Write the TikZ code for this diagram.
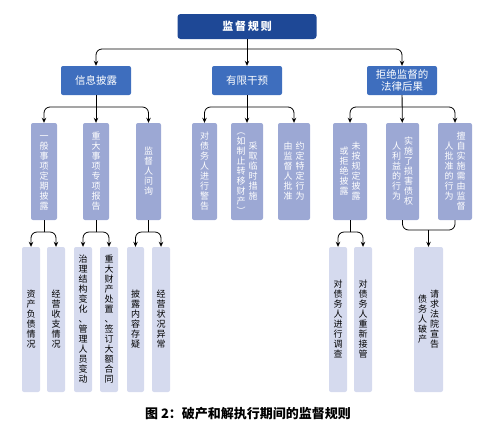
\documentclass[tikz,border=0pt]{standalone}
\usepackage{fontspec}
\setmainfont{Noto Sans CJK SC}
\usetikzlibrary{arrows.meta}

\definecolor{topblue}{RGB}{30,72,150}
\definecolor{lvone}{RGB}{62,110,190}
\definecolor{lvtwo}{RGB}{156,168,212}
\definecolor{lvthree}{RGB}{213,218,238}

% one column of upright characters, read top to bottom
\def\vcolstep#1{\ifx\relax#1\else\hbox to 1em{\hss\vrule height .88em depth .12em width 0pt #1\hss}\kern1pt\expandafter\vcolstep\fi}
\newcommand\vcol[1]{$\vcenter{\offinterlineskip\vcolstep#1\relax}$}
% two columns: first argument on the left, second on the right
\newcommand\vtwo[2]{\vcol{#1}\kern3pt\vcol{#2}}

\begin{document}
\begin{tikzpicture}[x=1pt,y=-1pt,
    arr/.style={-{Stealth[length=5pt,width=4.5pt]}},
    line/.style={line width=0.8pt, rounded corners=6pt},
    head/.style={fill=topblue, text=white, rounded corners=3pt, minimum width=139pt, minimum height=25pt, font=\fontsize{11}{13}\selectfont\bfseries},
    topic/.style={fill=lvone, text=white, rounded corners=2pt, minimum width=70pt, minimum height=29pt, align=center, font=\fontsize{10.5}{12.5}\selectfont},
    item/.style={fill=lvtwo, text=white, rounded corners=2pt, inner sep=0pt, minimum height=97pt, font=\fontsize{9}{9}\selectfont},
    leaf/.style={fill=lvthree, text=black, rounded corners=2pt, inner sep=0pt, minimum height=145pt, font=\fontsize{9}{9}\selectfont}]

    \useasboundingbox (0,0) rectangle (497,437);

    \node[head] (rules) at (247,26.5) {监\,督\,规\,则};

    \node[topic] (info)   at (96,80.5)  {信息披露};
    \node[topic] (limit)  at (247,80.5) {有限干预};
    \node[topic] (refuse) at (402,80.5) {拒绝监督的\\法律后果};

    % second row
    \node[item, minimum width=26pt] (regular) at (44,171.5)    {\vcol{一般事项定期披露}};
    \node[item, minimum width=26pt] (special) at (96,171.5)    {\vcol{重大事项专项报告}};
    \node[item, minimum width=25pt] (inquiry) at (148.5,171.5) {\vcol{监督人问询}};
    \node[item, minimum width=25pt] (warn)    at (204.5,171.5) {\vcol{对债务人进行警告}};
    \node[item, minimum width=32pt] (interim) at (247,171.5)   {\vtwo{︵如制止转移财产︶}{采取临时措施}};
    \node[item, minimum width=32pt] (approve) at (294,171.5)   {\vtwo{由监督人批准}{约定特定行为}};
    \node[item, minimum width=34pt] (nodisc)  at (350,171.5)   {\vtwo{或拒绝披露}{未按规定披露}};
    \node[item, minimum width=33pt] (harm)    at (402.5,171.5) {\vtwo{人利益的行为}{实施了损害债权}};
    \node[item, minimum width=34pt] (unauth)  at (455,171.5)   {\vtwo{人批准的行为}{擅自实施需由监督}};

    % third row
    \node[leaf, minimum width=18pt] (assets)  at (31,319.5)    {\vcol{资产负债情况}};
    \node[leaf, minimum width=18pt] (income)  at (56,319.5)    {\vcol{经营收支情况}};
    \node[leaf, minimum width=18pt] (govern)  at (83,319.5)    {\vcol{治理结构变化、管理人员变动}};
    \node[leaf, minimum width=18pt] (dispose) at (109,319.5)   {\vcol{重大财产处置、签订大额合同}};
    \node[leaf, minimum width=17pt] (doubt)   at (135.5,319.5) {\vcol{披露内容存疑}};
    \node[leaf, minimum width=18pt] (abnorm)  at (161,319.5)   {\vcol{经营状况异常}};
    \node[leaf, minimum width=18pt] (probe)   at (338,319.5)   {\vcol{对债务人进行调查}};
    \node[leaf, minimum width=18pt] (takeover) at (363,319.5)  {\vcol{对债务人重新接管}};
    \node[leaf, minimum width=29pt] (bankrupt) at (428.5,319.5) {\vtwo{债务人破产}{请求法院宣告}};

    % connectors
    \coordinate (hub) at (247,49);
    \draw[line,arr] (rules) -- (limit);
    \draw[line,arr] (hub) -| (info);
    \draw[line,arr] (hub) -| (refuse);

    \coordinate (infohub)   at (96,107);
    \coordinate (limithub)  at (247,107);
    \coordinate (refusehub) at (402,107);
    \draw[line,arr] (info) -- (special);
    \draw[line,arr] (infohub) -| (regular);
    \draw[line,arr] (infohub) -| (inquiry);
    \draw[line,arr] (limit) -- (interim);
    \draw[line,arr] (limithub) -| (warn);
    \draw[line,arr] (limithub) -| (approve);
    \draw[line,arr] (refuse) -- (harm);
    \draw[line,arr] (refusehub) -| (nodisc);
    \draw[line,arr] (refusehub) -| (unauth);

    \coordinate (reghub)  at (44,232);
    \coordinate (spechub) at (96,232);
    \coordinate (inqhub)  at (148.5,232);
    \coordinate (dischub) at (350,232);
    \draw[line] (regular) -- (reghub);
    \draw[line,arr] (reghub) -| (assets);
    \draw[line,arr] (reghub) -| (income);
    \draw[line] (special) -- (spechub);
    \draw[line,arr] (spechub) -| (govern);
    \draw[line,arr] (spechub) -| (dispose);
    \draw[line] (inquiry) -- (inqhub);
    \draw[line,arr] (inqhub) -| (doubt);
    \draw[line,arr] (inqhub) -| (abnorm);
    \draw[line] (nodisc) -- (dischub);
    \draw[line,arr] (dischub) -| (probe);
    \draw[line,arr] (dischub) -| (takeover);

    \coordinate (mergehub) at (428.5,230);
    \draw[line] (harm) |- (mergehub) -| (unauth);
    \draw[line,arr] (mergehub) -- (bankrupt);

    \node[font=\fontsize{13}{15}\selectfont\bfseries] (caption) at (248,414) {图 2：破产和解执行期间的监督规则};
\end{tikzpicture}
\end{document}
